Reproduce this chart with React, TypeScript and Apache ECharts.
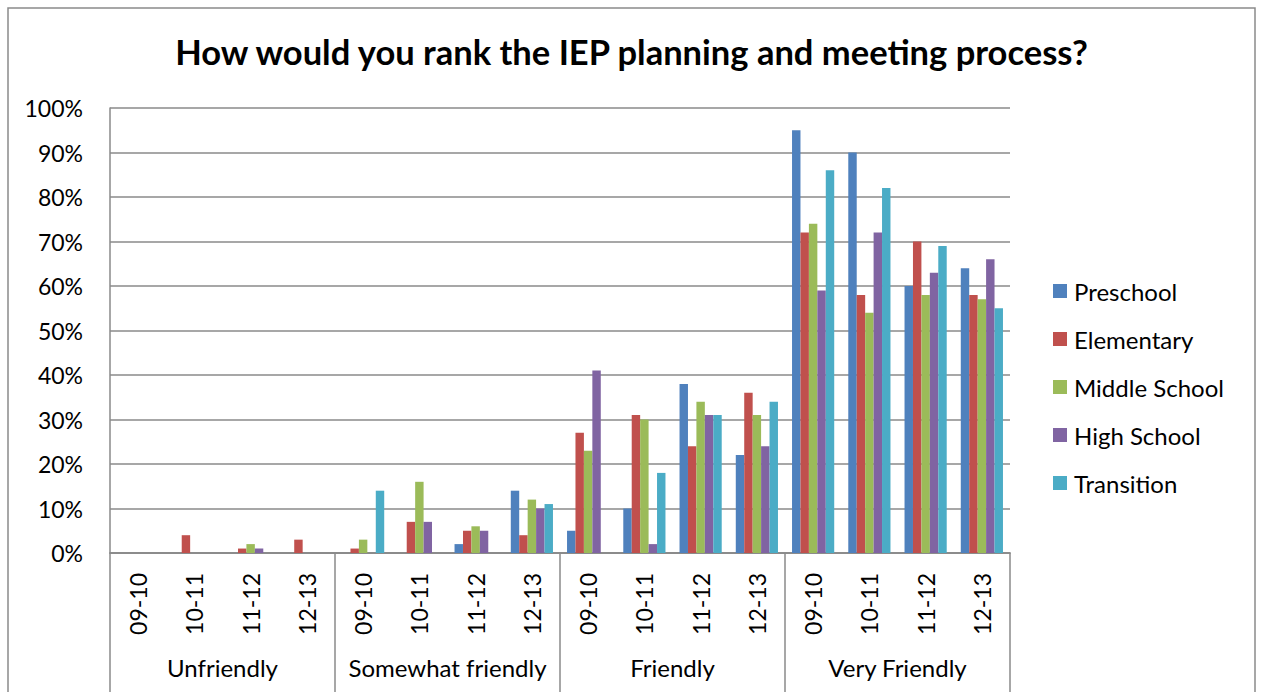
import React, { useEffect, useRef } from "react";
import * as echarts from "echarts";

const titleText = "How would you rank the IEP planning and meeting process?";
const yearLabels = [
  "09-10", "10-11", "11-12", "12-13",
  "09-10", "10-11", "11-12", "12-13",
  "09-10", "10-11", "11-12", "12-13",
  "09-10", "10-11", "11-12", "12-13",
];
const groupLabels = ["Unfriendly", "Somewhat friendly", "Friendly", "Very Friendly"];
const seriesNames = ["Preschool", "Elementary", "Middle School", "High School", "Transition"];
const seriesColors = ["#4F81BD", "#C0504D", "#9BBB59", "#8064A2", "#4BACC6"];

const preschool = [0, 0, 0, 0, 0, 0, 2, 14, 5, 10, 38, 22, 95, 90, 60, 64];
const elementary = [0, 4, 1, 3, 1, 7, 5, 4, 27, 31, 24, 36, 72, 58, 70, 58];
const middleSchool = [0, 0, 2, 0, 3, 16, 6, 12, 23, 30, 34, 31, 74, 54, 58, 57];
const highSchool = [0, 0, 1, 0, 0, 7, 5, 10, 41, 2, 31, 24, 59, 72, 63, 66];
const transition = [0, 0, 0, 0, 14, 0, 0, 11, 0, 18, 31, 34, 86, 82, 69, 55];

const seriesValues = [preschool, elementary, middleSchool, highSchool, transition];

const FONT = "Lato, 'Open Sans', sans-serif";
const GRAY = "#8a8a8a";

export default function App() {
  const ref = useRef<HTMLDivElement>(null);

  useEffect(() => {
    document.body.style.margin = "0";
    const chart = echarts.init(ref.current!, null, { renderer: "svg" });
    chart.setOption({
      animation: false,
      backgroundColor: "#ffffff",
      textStyle: { fontFamily: FONT, color: "#000" },
      title: {
        text: titleText,
        left: "center",
        top: 29,
        textStyle: { fontFamily: FONT, fontSize: 34.5, fontWeight: "bold", color: "#000" },
      },
      graphic: [
        {
          type: "rect",
          shape: { x: 8, y: 8, width: 1247, height: 700 },
          style: { fill: "none", stroke: GRAY, lineWidth: 1.5 },
          silent: true,
          z: -1,
        },
      ],
      legend: {
        orient: "vertical",
        left: 1053,
        top: 279,
        padding: 0,
        itemWidth: 14,
        itemHeight: 14,
        itemGap: 24,
        icon: "rect",
        data: seriesNames,
        textStyle: { fontFamily: FONT, fontSize: 24, color: "#000", padding: [0, 0, 0, 2] },
      },
      grid: { left: 110, right: 253, top: 108, bottom: 139, containLabel: false },
      xAxis: [
        {
          type: "category",
          data: yearLabels,
          position: "bottom",
          axisLine: { show: true, lineStyle: { color: GRAY, width: 1.5 } },
          axisTick: { show: false },
          axisLabel: {
            rotate: 90,
            interval: 0,
            margin: 20,
            fontFamily: FONT,
            fontSize: 23,
            color: "#000",
          },
        },
        {
          type: "category",
          data: groupLabels,
          position: "bottom",
          axisLine: { show: true, lineStyle: { color: GRAY, width: 1.5 } },
          axisTick: { show: true, length: 140, lineStyle: { color: GRAY, width: 1.5 } },
          axisLabel: {
            interval: 0,
            margin: 102,
            fontFamily: FONT,
            fontSize: 24,
            color: "#000",
          },
        },
      ],
      yAxis: {
        type: "value",
        min: 0,
        max: 100,
        interval: 10,
        axisLine: { show: true, lineStyle: { color: GRAY, width: 1.5 } },
        axisTick: { show: false },
        splitLine: { show: true, lineStyle: { color: GRAY, width: 1.5 } },
        axisLabel: {
          formatter: "{value}%",
          margin: 27,
          fontFamily: FONT,
          fontSize: 23,
          color: "#000",
        },
      },
      series: seriesNames.map((name, i) => ({
        name,
        type: "bar",
        xAxisIndex: 0,
        data: seriesValues[i],
        itemStyle: { color: seriesColors[i] },
        barGap: "0%",
        barCategoryGap: "25%",
      })),
    });
    return () => chart.dispose();
  }, []);

  return <div ref={ref} style={{ width: 1263, height: 692 }} />;
}
